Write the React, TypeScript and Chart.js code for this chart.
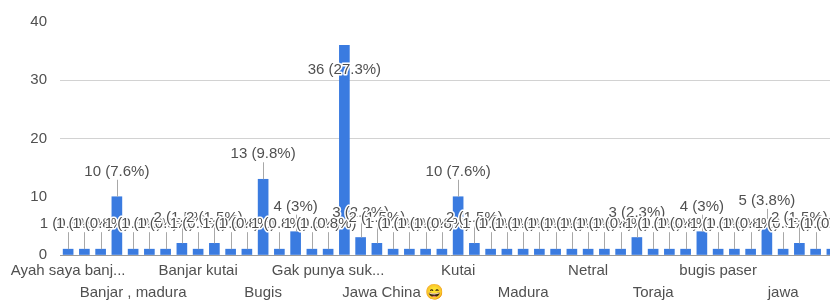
import React, { useEffect, useRef } from 'react';
import { Chart, registerables } from 'chart.js';

Chart.register(...registerables);

const categories: string[] = [
  'Ayah saya banj...', 'Bajau', 'Bali', 'Banjar', 'Banjar , madura', 'Banjar Bugis',
  'Banjar Jawa', 'Banjar dan Jawa', 'Banjar kutai', 'Batak', 'Berau', 'Betawi',
  'Bugis', 'Bugis Banjar', 'Dayak', 'Dayak Kenyah', 'Gak punya suk...', 'Jawa',
  'Jawa Banjar', 'Jawa Bugis', 'Jawa China 😄', 'Jawa Madura', 'Jawa Sunda', 'Kalimantan',
  'Kutai', 'Kutai Banjar', 'Kutai Jawa', 'Lombok', 'Madura', 'Makassar',
  'Manado', 'Melayu', 'Netral', 'Padang', 'Sunda', 'Tionghoa',
  'Toraja', 'Ulu', 'banjar', 'bugis', 'bugis paser', 'dayak',
  'flores', 'indonesia', 'jawa', 'kutai', 'madura', 'sunda',
];

const responses: number[] = [
  1, 1, 1, 10, 1, 1,
  1, 2, 1, 2, 1, 1,
  13, 1, 4, 1, 1, 36,
  3, 2, 1, 1, 1, 1,
  10, 2, 1, 1, 1, 1,
  1, 1, 1, 1, 1, 3,
  1, 1, 1, 4, 1, 1,
  1, 5, 1, 2, 1, 1,
];

const TOTAL_RESPONSES = 132;
const yTickValues: number[] = [0, 10, 20, 30, 40];
const gridValues: number[] = [20, 30];

const FONT = '"Liberation Sans", Arial, sans-serif';
const TEXT_COLOR = '#505050';
const BAR_COLOR = '#3a7be0';

function formatLabel(v: number): string {
  const pct = Math.round((v / TOTAL_RESPONSES) * 1000) / 10;
  const s = pct.toFixed(1).replace(/\.0$/, '');
  return `${v} (${s}%)`;
}

const annotationPlugin = {
  id: 'barAnnotations',
  afterDatasetsDraw(chart: any) {
    const { ctx, chartArea } = chart;
    const meta = chart.getDatasetMeta(0);
    const data = chart.data.datasets[0].data as number[];
    const OFFSET = 25;
    const items = meta.data.map((el: any, i: number) => {
      const top = el.y;
      const inside = top - OFFSET < chartArea.top + 8;
      const y = inside ? top + OFFSET : top - OFFSET;
      return { x: el.x, y, top, inside, text: formatLabel(data[i]) };
    });
    ctx.save();
    ctx.strokeStyle = '#a8a8a8';
    ctx.lineWidth = 1;
    items.forEach((it: any) => {
      if (it.inside) return;
      const x = Math.round(it.x) + 0.5;
      ctx.beginPath();
      ctx.moveTo(x, it.y + 8);
      ctx.lineTo(x, it.top);
      ctx.stroke();
    });
    ctx.font = `15px ${FONT}`;
    ctx.textAlign = 'center';
    ctx.textBaseline = 'middle';
    ctx.lineJoin = 'round';
    items.forEach((it: any) => {
      ctx.strokeStyle = '#ffffff';
      ctx.lineWidth = 3;
      ctx.strokeText(it.text, it.x, it.y);
      ctx.fillStyle = TEXT_COLOR;
      ctx.fillText(it.text, it.x, it.y);
    });
    ctx.restore();
  },
};

const xLabelPlugin = {
  id: 'staggeredXLabels',
  afterDraw(chart: any) {
    const { ctx, chartArea } = chart;
    const xScale = chart.scales.x;
    ctx.save();
    ctx.font = `15px ${FONT}`;
    ctx.fillStyle = TEXT_COLOR;
    ctx.textAlign = 'center';
    ctx.textBaseline = 'middle';
    categories.forEach((label, i) => {
      if (i % 4 !== 0) return;
      const row = (i / 4) % 2;
      const y = chartArea.bottom + (row === 0 ? 16 : 38);
      ctx.fillText(label, xScale.getPixelForValue(i), y);
    });
    ctx.restore();
  },
};

export default function App() {
  const canvasRef = useRef<HTMLCanvasElement | null>(null);

  useEffect(() => {
    if (!canvasRef.current) return;
    const chart = new Chart(canvasRef.current, {
      type: 'bar',
      data: {
        labels: categories,
        datasets: [
          {
            data: responses,
            backgroundColor: BAR_COLOR,
            borderWidth: 0,
            barThickness: 10,
          },
        ],
      },
      options: {
        animation: false,
        responsive: true,
        maintainAspectRatio: false,
        layout: { padding: { top: 17, bottom: 50, left: 0, right: 0 } },
        plugins: {
          legend: { display: false },
          tooltip: { enabled: false },
        },
        scales: {
          x: {
            grid: { display: false, drawTicks: false, tickLength: 0 },
            ticks: { display: false },
            border: { display: true, color: '#9a9a9a', width: 1 },
            afterFit: (scale: any) => {
              scale.height = 0;
            },
          },
          y: {
            min: 0,
            max: 40,
            afterFit: (scale: any) => {
              scale.width = 60;
            },
            afterBuildTicks: (scale: any) => {
              scale.ticks = yTickValues.map((v) => ({ value: v }));
            },
            grid: {
              drawTicks: false,
              color: (c: any) => (gridValues.includes(c.tick?.value) ? '#d2d2d2' : 'rgba(0,0,0,0)'),
              lineWidth: 1,
            },
            border: { display: false },
            ticks: {
              padding: 13,
              color: TEXT_COLOR,
              font: { family: FONT, size: 15 },
            },
          },
        },
      },
      plugins: [annotationPlugin, xLabelPlugin],
    });
    return () => chart.destroy();
  }, []);

  return (
    <div
      style={{
        position: 'fixed',
        left: 0,
        top: 0,
        width: 830,
        height: 305,
        overflow: 'hidden',
        background: '#ffffff',
      }}
    >
      <div style={{ position: 'relative', width: 840, height: 305 }}>
        <canvas ref={canvasRef} />
      </div>
    </div>
  );
}
